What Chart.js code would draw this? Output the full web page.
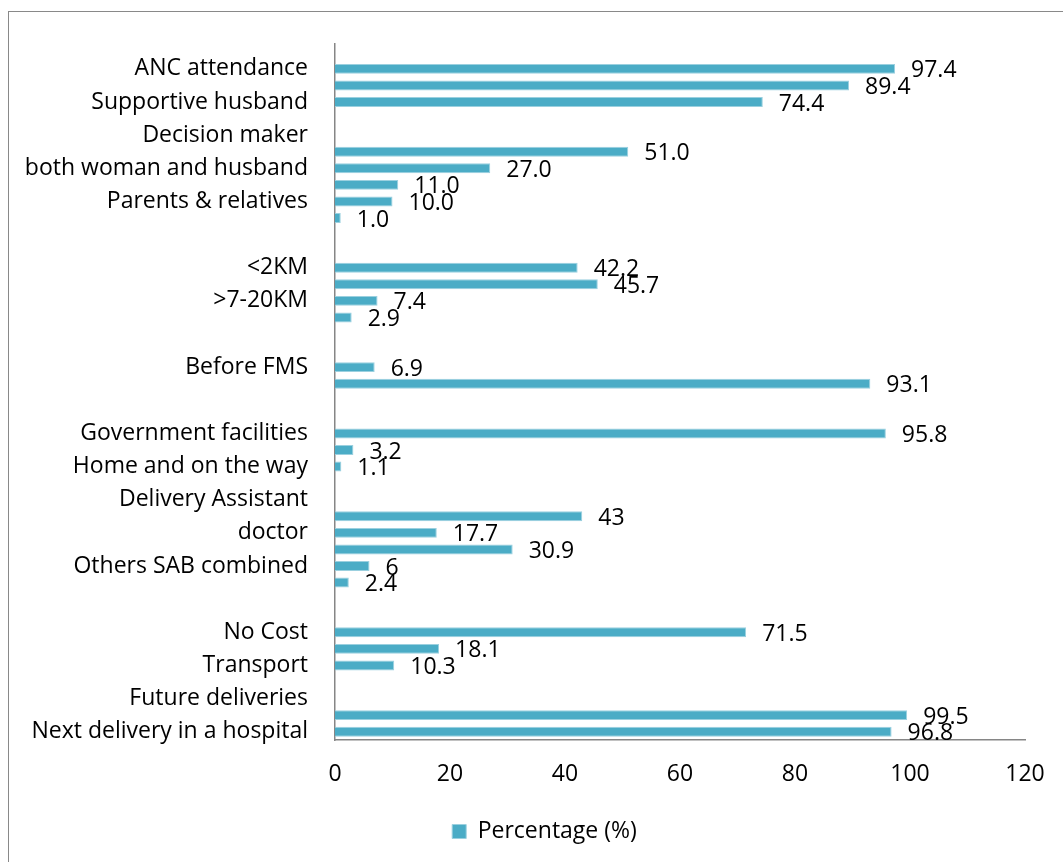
<!DOCTYPE html>
<html>
<head>
<meta charset="utf-8">
<script src="https://cdn.jsdelivr.net/npm/chart.js@4"></script>
<style>
  body { margin: 0; background: #fff; overflow: hidden; }
  .frame { position: absolute; left: 8px; top: 11px; width: 1100px; height: 900px; border: 1px solid #898989; }
  .wrap { position: absolute; left: 0; top: 0; width: 1063px; height: 862px; }
</style>
</head>
<body>
<div class="frame"></div>
<div class="wrap"><canvas id="chart"></canvas></div>
<script>
// Rows top to bottom; '' = row without a visible label, null = no bar
const categories = [
  '', 'ANC attendance', '', 'Supportive husband', '', 'Decision maker',
  '', 'both woman and husband', '', 'Parents & relatives', '', '',
  '', '<2KM', '', '>7-20KM', '', '',
  '', 'Before FMS', '', '', '', 'Government facilities',
  '', 'Home and on the way', '', 'Delivery Assistant', '', 'doctor',
  '', 'Others SAB combined', '', '', '', 'No Cost',
  '', 'Transport', '', 'Future deliveries', '', 'Next delivery in a hospital'
];
const percentages = [
  null, 97.4, 89.4, 74.4, null, null,
  51.0, 27.0, 11.0, 10.0, 1.0, null,
  null, 42.2, 45.7, 7.4, 2.9, null,
  null, 6.9, 93.1, null, null, 95.8,
  3.2, 1.1, null, null, 43, 17.7,
  30.9, 6, 2.4, null, null, 71.5,
  18.1, 10.3, null, null, 99.5, 96.8
];
const valueLabels = [
  '', '97.4', '89.4', '74.4', '', '',
  '51.0', '27.0', '11.0', '10.0', '1.0', '',
  '', '42.2', '45.7', '7.4', '2.9', '',
  '', '6.9', '93.1', '', '', '95.8',
  '3.2', '1.1', '', '', '43', '17.7',
  '30.9', '6', '2.4', '', '', '71.5',
  '18.1', '10.3', '', '', '99.5', '96.8'
];
const xTicks = [0, 20, 40, 60, 80, 100, 120];

const FONT = '"Open Sans"';
const FSIZE = 23;
const BAR_COLOR = '#4BACC6';
const AXIS_COLOR = '#868686';

// value labels to the right of each bar
const barLabels = {
  id: 'barLabels',
  afterDatasetsDraw(chart) {
    const ctx = chart.ctx;
    const meta = chart.getDatasetMeta(0);
    ctx.save();
    ctx.font = FSIZE + 'px ' + FONT;
    ctx.fillStyle = '#000';
    ctx.textAlign = 'left';
    ctx.textBaseline = 'middle';
    meta.data.forEach((bar, i) => {
      if (percentages[i] === null) return;
      ctx.fillText(valueLabels[i], bar.x + 16, bar.y + 2);
    });
    ctx.restore();
  }
};

// nudge the legend a bit right, like the original
const legendShift = {
  id: 'legendShift',
  afterLayout(chart) {
    chart.legend.left += 32;
    chart.legend.right += 32;
  }
};

new Chart(document.getElementById('chart'), {
  type: 'bar',
  data: {
    labels: categories,
    datasets: [{
      label: 'Percentage (%)',
      data: percentages,
      backgroundColor: BAR_COLOR,
      borderColor: '#9BD0DF',
      borderWidth: 1,
      barPercentage: 0.6,
      categoryPercentage: 1
    }]
  },
  options: {
    indexAxis: 'y',
    responsive: true,
    maintainAspectRatio: false,
    animation: false,
    layout: { padding: { top: 44, right: 38, left: 0, bottom: 9 } },
    scales: {
      x: {
        min: 0, max: 120,
        afterBuildTicks: axis => { axis.ticks = xTicks.map(v => ({ value: v })); },
        grid: { display: false, drawTicks: false },
        border: { color: AXIS_COLOR, width: 1.5 },
        ticks: { color: '#000', padding: 21, font: { family: FONT, size: FSIZE } },
        afterFit: scale => {
          scale.height = 70;
          scale.paddingLeft = 0;
          scale.paddingRight = 0;
        }
      },
      y: {
        grid: { display: false, drawTicks: false },
        border: { color: AXIS_COLOR, width: 1.5 },
        ticks: { color: '#000', autoSkip: false, padding: 27, font: { family: FONT, size: FSIZE } },
        afterFit: scale => { scale.width = 335; }
      }
    },
    plugins: {
      legend: {
        position: 'bottom',
        labels: { color: '#000', boxWidth: 14, boxHeight: 14, padding: 10, font: { family: FONT, size: FSIZE } }
      },
      tooltip: { enabled: false }
    }
  },
  plugins: [barLabels, legendShift]
});
</script>
</body>
</html>
